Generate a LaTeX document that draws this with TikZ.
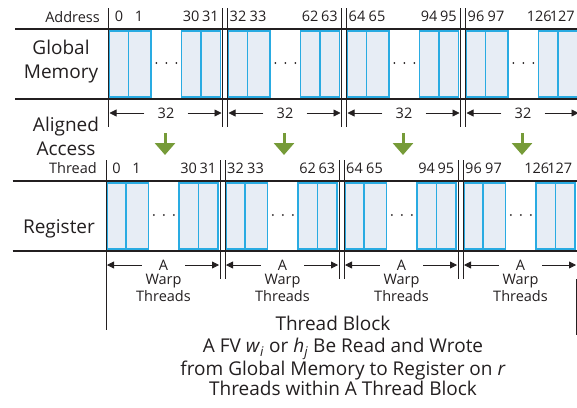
\documentclass[tikz,border=0pt]{standalone}
\usepackage{fontspec}
\setmainfont{Open Sans}
\usetikzlibrary{arrows.meta,positioning}
\definecolor{cellblue}{RGB}{41,171,226}
\definecolor{cellfill}{RGB}{231,237,245}
\definecolor{accgreen}{RGB}{118,155,56}
\definecolor{ink}{RGB}{35,31,32}

\begin{document}
\begin{tikzpicture}[x=1pt,y=-1pt,
    cell/.style={draw=cellblue,fill=cellfill,line width=1.8pt},
    bar/.style={draw=ink,line width=2.2pt},
    rule/.style={draw=ink,line width=0.8pt},
    idx/.style={font=\fontsize{14.5}{17}\selectfont,inner sep=0pt,text=ink},
    big/.style={font=\fontsize{19}{24}\selectfont,align=center,text=ink},
    dimarrow/.style={draw=ink,line width=0.8pt,-{Triangle[length=7pt,width=7pt]}},
    down/.style={draw=accgreen,line width=3pt,-{Triangle[length=12pt,width=20pt]}}]
  \useasboundingbox (0,0) rectangle (577,407);
  \clip (0,0) rectangle (577,407);

  % left hand labels
  \node[idx,anchor=east] (addr) at (100,16.7) {Address};
  \node[idx,anchor=east] (thr) at (97,168) {Thread};
  \node[big] (gmem) at (61,62) {Global\\Memory};
  \node[big] (acc) at (66,136) {Aligned\\Access};
  \node[big] (reg) at (59,229) {Register};

  % the two rows: global memory (gm) and register (rg)
  \foreach \r/\yo/\xo/\dt in {gm/0/0/32,rg/152/-2.5/A}{
    \draw[bar] (15+\xo,29+\yo) -- (577,29+\yo);
    \draw[bar] (15+\xo,99+\yo) -- (577,99+\yo);
    \foreach \k/\da/\db in {0/0/0,1/0/0,2/0/0,3/-9/-5}{
      \pgfmathsetmacro\s{108.5+119*\k+\xo}
      \pgfmathtruncatemacro\na{32*\k}
      \pgfmathtruncatemacro\nb{32*\k+1}
      \pgfmathtruncatemacro\nc{32*\k+30}
      \pgfmathtruncatemacro\nd{32*\k+31}
      \draw[cell] (\s+1,31+\yo) rectangle (\s+20,97+\yo);
      \draw[cell] (\s+20,31+\yo) rectangle (\s+42.5,97+\yo);
      \draw[cell] (\s+73,31+\yo) rectangle (\s+92.5,97+\yo);
      \draw[cell] (\s+92.5,31+\yo) rectangle (\s+112,97+\yo);
      \foreach \d in {-10,0,10}
        \fill[ink] (\s+57.8+\d,63+\yo) circle (1pt);
      \draw[rule] (\s,8+\yo) -- (\s,127+\yo);
      \draw[rule] (\s+114,8+\yo) -- (\s+114,127+\yo);
      \node[idx] (\r_\k_a) at (\s+10.5,16.7+\yo) {\na};
      \node[idx] (\r_\k_b) at (\s+30.5,16.7+\yo) {\nb};
      \node[idx] (\r_\k_c) at (\s+82.7+\da,16.7+\yo) {\nc};
      \node[idx] (\r_\k_d) at (\s+101.8+\db,16.7+\yo) {\nd};
      % dimension arrow under each block
      \coordinate (\r_\k_l) at (\s+1,113+\yo);
      \coordinate (\r_\k_r) at (\s+113,113+\yo);
      \node[idx,minimum width=43pt] (\r_\k_n) at (\s+57.5,113+\yo) {\dt};
      \draw[dimarrow] (\r_\k_n.west) -- (\r_\k_l);
      \draw[dimarrow] (\r_\k_n.east) -- (\r_\k_r);
    }
  }
  \draw[rule] (106,279) -- (106,330);
  \draw[rule] (576.5,279) -- (576.5,335);

  \foreach \k in {0,...,3}{
    \node[idx,align=center,below=4pt of rg_\k_n] (rg_\k_w) {Warp\\Threads};
    \coordinate (ga_\k) at (165+119*\k,133);
    \coordinate (gb_\k) at (165+119*\k,155);
    \draw[down] (ga_\k) -- (gb_\k);
  }

  % caption
  \node[big] (tblock) at (333,323) {Thread Block};
  \node[big,font=\fontsize{19}{20}\selectfont] (cap) at (343,367)
    {A FV \textit{w}\textsubscript{\textit{i}} or \textit{h}\textsubscript{\textit{j}} Be Read and Wrote\\
     from Global Memory to Register on \textit{r}\\
     Threads within A Thread Block};
\end{tikzpicture}
\end{document}
